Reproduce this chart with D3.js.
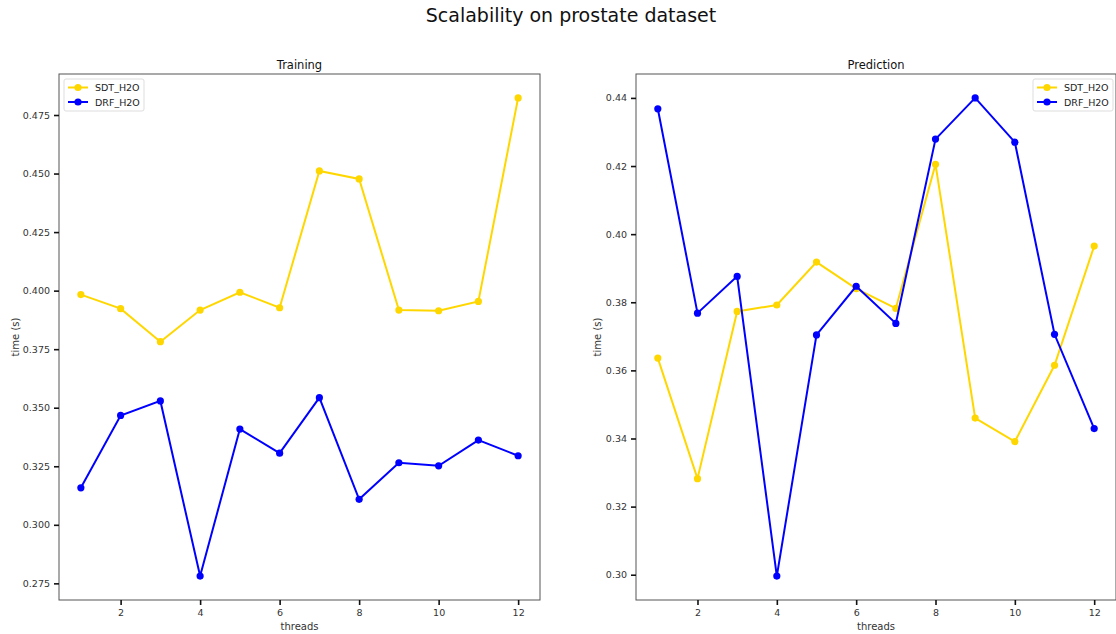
<!DOCTYPE html>
<html lang="en">
<head>
<meta charset="UTF-8">
<title>Scalability on prostate dataset</title>
<script src="https://d3js.org/d3.v7.min.js"></script>
<style>
  body { margin: 0; background: #fff; }
  svg { font-family: "DejaVu Sans", sans-serif; }
</style>
</head>
<body>
<div id="chart"></div>
<script>
// data
const threads = [1, 2, 3, 4, 5, 6, 7, 8, 9, 10, 11, 12];
const trainSDT = [0.3983, 0.3923, 0.3782, 0.3917, 0.3993, 0.3927, 0.4511, 0.4477, 0.3917, 0.3914, 0.3954, 0.4823];
const trainDRF = [0.3158, 0.3467, 0.3529, 0.2781, 0.3409, 0.3306, 0.3543, 0.3109, 0.3265, 0.3252, 0.3362, 0.3295];
const predSDT = [0.3636, 0.3282, 0.3773, 0.3792, 0.3918, 0.3840, 0.3782, 0.4205, 0.3460, 0.3391, 0.3615, 0.3965];
const predDRF = [0.4368, 0.3768, 0.3876, 0.2996, 0.3704, 0.3847, 0.3738, 0.4279, 0.4400, 0.4270, 0.3706, 0.3429];
const xTicks = [2, 4, 6, 8, 10, 12];
const trainYTicks = [0.275, 0.300, 0.325, 0.350, 0.375, 0.400, 0.425, 0.450, 0.475];
const predYTicks = [0.30, 0.32, 0.34, 0.36, 0.38, 0.40, 0.42, 0.44];
const seriesNames = ["SDT_H2O", "DRF_H2O"];
const seriesColors = ["#FFD700", "#0000FF"];

const W = 1116, H = 634;
const svg = d3.select("#chart").append("svg")
  .attr("width", W).attr("height", H);

svg.append("text")
  .attr("x", 571).attr("y", 22)
  .attr("text-anchor", "middle")
  .style("font-size", "19px")
  .style("fill", "#111")
  .text("Scalability on prostate dataset");

// matplotlib-like 5% margin around the data
function padded(vals) {
  const [lo, hi] = d3.extent(vals);
  const m = (hi - lo) * 0.05;
  return [lo - m, hi + m];
}

function panel(opts) {
  const {left, width, top, height, title, sdt, drf, yTicks, yFmt, legendRight} = opts;
  const g = svg.append("g").attr("transform", `translate(${left},${top})`);

  const x = d3.scaleLinear().domain(padded(threads)).range([0, width]);
  const y = d3.scaleLinear().domain(padded(sdt.concat(drf))).range([height, 0]);

  // frame
  g.append("rect")
    .attr("width", width).attr("height", height)
    .attr("fill", "none").attr("stroke", "#555").attr("stroke-width", 1);

  const xAxis = g.append("g")
    .attr("transform", `translate(0,${height})`)
    .call(d3.axisBottom(x).tickValues(xTicks).tickSize(5).tickPadding(4));
  const yAxis = g.append("g")
    .call(d3.axisLeft(y).tickValues(yTicks).tickFormat(d3.format(yFmt)).tickSize(5).tickPadding(4));
  [xAxis, yAxis].forEach(a => {
    a.select(".domain").remove();
    a.selectAll(".tick line").attr("stroke", "#111").attr("stroke-width", 1.6);
    a.selectAll(".tick text").style("font-size", "9.5px").style("fill", "#333")
      .style("font-family", "DejaVu Sans, sans-serif");
  });

  g.append("text")
    .attr("x", width / 2).attr("y", -5)
    .attr("text-anchor", "middle")
    .style("font-size", "11.5px").style("fill", "#111")
    .text(title);

  g.append("text")
    .attr("x", width / 2).attr("y", height + 30)
    .attr("text-anchor", "middle")
    .style("font-size", "10px").style("fill", "#333")
    .text("threads");

  g.append("text")
    .attr("transform", `translate(${-opts.ylabOffset},${height / 2}) rotate(-90)`)
    .attr("text-anchor", "middle")
    .style("font-size", "10px").style("fill", "#333")
    .text("time (s)");

  const line = d3.line().x((d, i) => x(threads[i])).y(d => y(d));
  [sdt, drf].forEach((vals, k) => {
    g.append("path")
      .datum(vals)
      .attr("fill", "none")
      .attr("stroke", seriesColors[k])
      .attr("stroke-width", 2)
      .attr("d", line);
    g.selectAll(null)
      .data(vals)
      .join("circle")
      .attr("cx", (d, i) => x(threads[i]))
      .attr("cy", d => y(d))
      .attr("r", 3.6)
      .attr("fill", seriesColors[k]);
  });

  // legend
  const lw = 80, lh = 32;
  const lx = legendRight ? width - lw - 3 : 5;
  const lg = g.append("g").attr("transform", `translate(${lx},5)`);
  lg.append("rect")
    .attr("width", lw).attr("height", lh).attr("rx", 2)
    .attr("fill", "#fff").attr("fill-opacity", 0.8)
    .attr("stroke", "#ddd");
  seriesNames.forEach((name, k) => {
    const yy = 8.5 + k * 14.5;
    lg.append("line")
      .attr("x1", 4).attr("x2", 24).attr("y1", yy).attr("y2", yy)
      .attr("stroke", seriesColors[k]).attr("stroke-width", 2);
    lg.append("circle").attr("cx", 14).attr("cy", yy).attr("r", 3.6)
      .attr("fill", seriesColors[k]);
    lg.append("text")
      .attr("x", 31).attr("y", yy + 3.5)
      .style("font-size", "9.5px").style("fill", "#222")
      .text(name);
  });
}

panel({
  left: 59, width: 481, top: 74, height: 526,
  title: "Training", sdt: trainSDT, drf: trainDRF,
  yTicks: trainYTicks, yFmt: ".3f", legendRight: false, ylabOffset: 40
});
panel({
  left: 636, width: 480, top: 74, height: 526,
  title: "Prediction", sdt: predSDT, drf: predDRF,
  yTicks: predYTicks, yFmt: ".2f", legendRight: true, ylabOffset: 35
});
</script>
</body>
</html>
